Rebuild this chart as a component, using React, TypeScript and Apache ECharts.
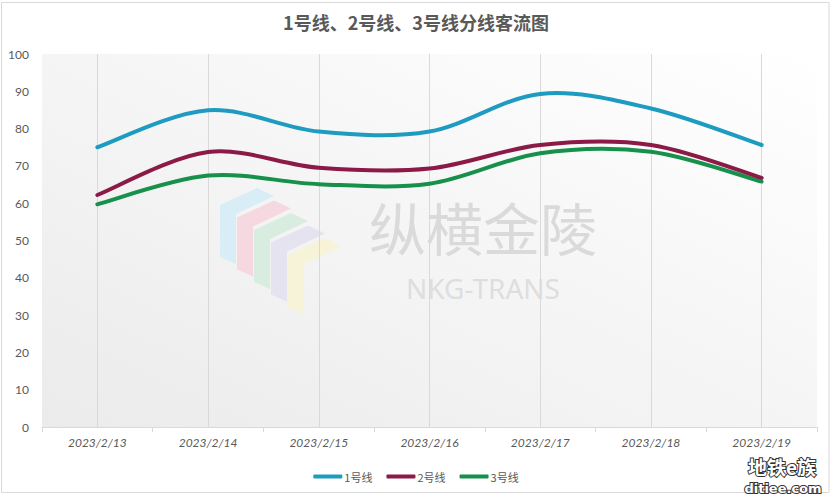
import React, { useEffect, useRef } from "react";
import * as echarts from "echarts";

const categories = [
  "2023/2/13",
  "2023/2/14",
  "2023/2/15",
  "2023/2/16",
  "2023/2/17",
  "2023/2/18",
  "2023/2/19",
];
const line1 = [75, 84.9, 79.2, 79.2, 89.3, 85.4, 75.6];
const line2 = [62.2, 73.7, 69.5, 69.3, 75.6, 75.6, 66.8];
const line3 = [59.7, 67.4, 65.1, 65.2, 73.4, 73.8, 65.8];
const seriesNames = ["1号线", "2号线", "3号线"];
const seriesColors = ["#1e9bc0", "#8b1a47", "#16904b"];

const logoColors = ["#d9edf7", "#f6d8e0", "#d8ede0", "#e5e3ef", "#f7f3d8"];

function smoothPath(pts: number[][]): string {
  // Catmull-Rom style cubic Bezier through the points (like a spreadsheet "smoothed line")
  const n = pts.length;
  let d = `M${pts[0][0]},${pts[0][1]}`;
  for (let i = 0; i < n - 1; i++) {
    const p0 = pts[Math.max(0, i - 1)];
    const p1 = pts[i];
    const p2 = pts[i + 1];
    const p3 = pts[Math.min(n - 1, i + 2)];
    const c1x = p1[0] + (p2[0] - p0[0]) / 6;
    const c1y = p1[1] + (p2[1] - p0[1]) / 6;
    const c2x = p2[0] - (p3[0] - p1[0]) / 6;
    const c2y = p2[1] - (p3[1] - p1[1]) / 6;
    d += ` C${c1x},${c1y} ${c2x},${c2y} ${p2[0]},${p2[1]}`;
  }
  return d;
}

export default function App() {
  const ref = useRef<HTMLDivElement>(null);
  useEffect(() => {
    document.body.style.margin = "0";
    if (!ref.current) return;
    const chart = echarts.init(ref.current, null, { renderer: "svg" });
    const textColor = "#595959";
    const logo = logoColors.map((c, i) => {
      const dx = 17 * i;
      const dy = 12.5 * i;
      return {
        type: "polygon",
        z: 1,
        silent: true,
        shape: {
          points: [
            [220 + dx, 205 + dy],
            [257 + dx, 188 + dy],
            [274 + dx, 196 + dy],
            [236 + dx, 214 + dy],
            [236 + dx, 264 + dy],
            [220 + dx, 257 + dy],
          ],
        },
        style: { fill: c },
      };
    });
    const data = [line1, line2, line3];
    const lineSeries = data.map((vals, si) => ({
      name: seriesNames[si],
      type: "custom",
      z: 10 - si,
      itemStyle: { color: seriesColors[si] },
      encode: { x: 0, y: 1 },
      data: vals.map((v, i) => [i, v]),
      renderItem: (params: any, api: any) => {
        if (params.dataIndex !== 0) return null;
        const pts = vals.map((v, i) => api.coord([i, v]));
        return {
          type: "path",
          shape: { pathData: smoothPath(pts) },
          style: {
            fill: "none",
            stroke: seriesColors[si],
            lineWidth: 4,
            lineCap: "round",
            lineJoin: "round",
          },
        };
      },
    }));
    chart.setOption({
      animation: false,
      backgroundColor: "#ffffff",
      title: {
        text: "1号线、2号线、3号线分线客流图",
        left: "center",
        top: 8,
        textStyle: {
          color: textColor,
          fontSize: 18,
          fontWeight: "bold",
          fontFamily: "'Noto Sans CJK SC', 'Noto Sans', sans-serif",
        },
      },
      legend: {
        bottom: 10,
        left: "center",
        itemWidth: 29,
        itemHeight: 4,
        itemGap: 14,
        icon: "roundRect",
        textStyle: {
          color: textColor,
          fontSize: 11,
          padding: [0, 0, 0, -3],
          fontFamily: "'Noto Sans CJK SC', sans-serif",
        },
        data: seriesNames,
      },
      grid: {
        left: 42,
        right: 15,
        top: 54,
        bottom: 70,
        show: true,
        borderWidth: 0,
        backgroundColor: new echarts.graphic.LinearGradient(1, 0, 0, 1, [
          { offset: 0, color: "#ffffff" },
          { offset: 1, color: "#ebebeb" },
        ]),
      },
      xAxis: {
        type: "category",
        data: categories,
        boundaryGap: true,
        axisLine: { lineStyle: { color: "#d9d9d9" } },
        axisTick: { show: true, length: 5, lineStyle: { color: "#d9d9d9" } },
        splitLine: { show: false },
        axisLabel: {
          color: textColor,
          fontSize: 12,
          fontStyle: "italic",
          fontFamily: "Lato, 'Noto Sans', sans-serif",
          margin: 9,
        },
      },
      yAxis: {
        type: "value",
        min: 0,
        max: 100,
        interval: 10,
        axisLine: { show: false },
        axisTick: { show: false },
        splitLine: { show: false },
        axisLabel: {
          color: textColor,
          fontSize: 12,
          fontFamily: "Lato, 'Noto Sans', sans-serif",
          margin: 13,
        },
      },
      graphic: [
        {
          type: "rect",
          z: 100,
          silent: true,
          shape: { x: 1.5, y: 2.5, width: 827.5, height: 490 },
          style: { fill: "none", stroke: "#d9d9d9", lineWidth: 1 },
        },
        ...logo,
        {
          type: "text",
          z: 1,
          silent: true,
          x: 483,
          y: 226,
          style: {
            text: "纵横金陵",
            fill: "#dadada",
            fontSize: 57,
            fontFamily: "'Noto Sans CJK SC', sans-serif",
            align: "center",
            verticalAlign: "middle",
          },
        },
        {
          type: "text",
          z: 1,
          silent: true,
          x: 483,
          y: 288,
          style: {
            text: "NKG-TRANS",
            fill: "#dedede",
            fontSize: 28,
            fontFamily: "'Noto Sans', sans-serif",
            align: "center",
            verticalAlign: "middle",
          },
        },
        {
          type: "text",
          z: 100,
          silent: true,
          x: 782,
          y: 466,
          style: {
            text: "地铁e族",
            fill: "#ffffff",
            stroke: "#333333",
            lineWidth: 2,
            fontSize: 19,
            fontWeight: "bold",
            fontFamily: "'Noto Sans CJK SC', sans-serif",
            align: "center",
            verticalAlign: "middle",
          },
        },
        {
          type: "text",
          z: 100,
          silent: true,
          x: 783,
          y: 488,
          style: {
            text: "ditiee.com",
            fill: "#ffffff",
            stroke: "#333333",
            lineWidth: 2,
            fontSize: 13,
            fontWeight: "bold",
            fontFamily: "'DejaVu Sans', sans-serif",
            align: "center",
            verticalAlign: "middle",
          },
        },
      ],
      series: [
        {
          name: "grid-lines",
          type: "line",
          data: line1,
          symbol: "none",
          silent: true,
          z: 1,
          lineStyle: { opacity: 0 },
          markLine: {
            silent: true,
            symbol: "none",
            label: { show: false },
            lineStyle: { color: "#d9d9d9", width: 1, type: "solid" },
            data: categories.map((c) => ({ xAxis: c })),
          },
        },
        ...lineSeries,
      ],
    });
    return () => chart.dispose();
  }, []);
  return <div ref={ref} style={{ width: 832, height: 497 }} />;
}
